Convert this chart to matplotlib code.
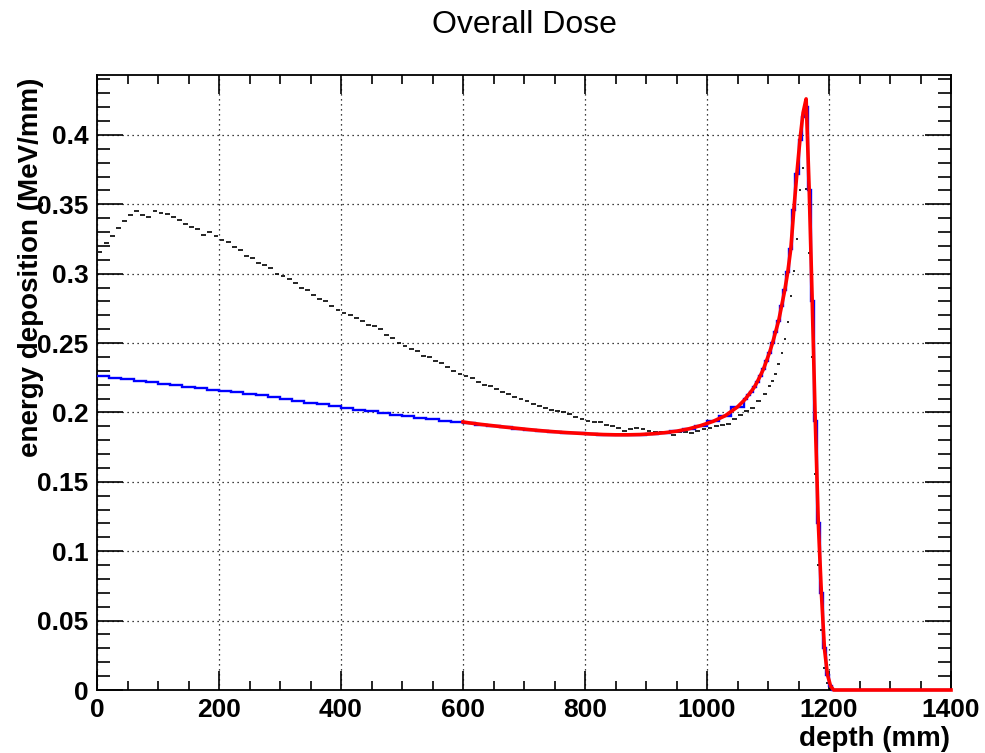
import numpy as np
import matplotlib
matplotlib.use("Agg")
import matplotlib.pyplot as plt
from matplotlib.ticker import MultipleLocator

# ---------------- data ----------------
# Black: measured energy deposition (histogram with error bars)
black_edges = np.concatenate([np.arange(0, 1100, 10), np.arange(1100, 1210, 5)])
black_vals = [
    0.316, 0.322, 0.327, 0.333, 0.338, 0.342, 0.345, 0.342, 0.341, 0.345,
    0.344, 0.343, 0.341, 0.339, 0.336, 0.334, 0.332, 0.328, 0.330, 0.327,
    0.324, 0.323, 0.319, 0.317, 0.313, 0.311, 0.308, 0.306, 0.304, 0.300,
    0.298, 0.296, 0.293, 0.290, 0.288, 0.285, 0.282, 0.280, 0.277, 0.274,
    0.272, 0.270, 0.268, 0.266, 0.263, 0.262, 0.260, 0.256, 0.254, 0.250,
    0.248, 0.246, 0.244, 0.241, 0.240, 0.237, 0.236, 0.233, 0.230, 0.228,
    0.226, 0.225, 0.222, 0.220, 0.219, 0.217, 0.215, 0.213, 0.211, 0.210,
    0.208, 0.206, 0.205, 0.203, 0.202, 0.201, 0.200, 0.199, 0.197, 0.195,
    0.194, 0.193, 0.193, 0.191, 0.190, 0.189, 0.187, 0.188, 0.189, 0.188,
    0.187, 0.186, 0.186, 0.185, 0.184, 0.186, 0.186, 0.185, 0.187, 0.188,
    0.189, 0.190, 0.191, 0.192, 0.195, 0.198, 0.201, 0.203, 0.208, 0.213,
    # 5 mm bins 1100-1205
    0.219, 0.223, 0.228, 0.235, 0.243, 0.253, 0.265, 0.284, 0.302, 0.325,
    0.360, 0.376, 0.361, 0.315, 0.240, 0.156, 0.090, 0.043, 0.016, 0.005,
    0.001,
]

# Blue: simulated dose histogram
blue_edges = np.concatenate([np.arange(0, 1060, 20), np.arange(1060, 1210, 5), [1210, 1400]])
blue_vals = [
    0.2262, 0.2252, 0.2241, 0.2230, 0.2219, 0.2208, 0.2196, 0.2185, 0.2175, 0.2165,
    0.2155, 0.2145, 0.2134, 0.2123, 0.2112, 0.2100, 0.2083, 0.2071, 0.2058, 0.2045,
    0.2033, 0.2020, 0.2008, 0.1996, 0.1985, 0.1974, 0.1963, 0.1952, 0.1942, 0.1932,
    0.1922, 0.1912, 0.1902, 0.1893, 0.1884, 0.1876, 0.1868, 0.1861, 0.1855, 0.1849,
    0.1844, 0.1840, 0.1838, 0.1838, 0.1840, 0.1845, 0.1853, 0.1864, 0.1880, 0.1905,
    0.1935, 0.1975, 0.2040,
    # 5 mm bins 1060-1210
    0.2095, 0.2125, 0.2150, 0.2180, 0.2220, 0.2265, 0.2310, 0.2370, 0.2430, 0.2500,
    0.2580, 0.2660, 0.2770, 0.2880, 0.3010, 0.3180, 0.3460, 0.3720, 0.3960, 0.4130,
    0.4200, 0.3600, 0.2800, 0.1940, 0.1200, 0.0700, 0.0300, 0.0110, 0.0030, 0.0000,
    0.0,
]

# Red: fit curve from 600 mm onwards (depth points and values)
red_x = np.concatenate([[600], np.arange(610, 1060, 20), np.arange(1062.5, 1210, 5), [1400]])
red_vals = [
    0.1932,
    0.1925, 0.1914, 0.1904, 0.1894, 0.1885, 0.1876, 0.1868, 0.1861, 0.1855, 0.1850,
    0.1845, 0.1841, 0.1839, 0.1839, 0.1841, 0.1846, 0.1854, 0.1865, 0.1882, 0.1906,
    0.1936, 0.1977, 0.2040,
    0.2095, 0.2124, 0.2152, 0.2182, 0.2222, 0.2266, 0.2312, 0.2372, 0.2432, 0.2502,
    0.2582, 0.2662, 0.2772, 0.2882, 0.3015, 0.3185, 0.3470, 0.3730, 0.3970, 0.4160,
    0.4260, 0.3610, 0.2800, 0.1940, 0.1200, 0.0700, 0.0300, 0.0110, 0.0030, 0.0000,
    0.0,
]

x_ticks = [0, 200, 400, 600, 800, 1000, 1200, 1400]
y_ticks = [0, 0.05, 0.1, 0.15, 0.2, 0.25, 0.3, 0.35, 0.4]
y_ticklabels = ["0", "0.05", "0.1", "0.15", "0.2", "0.25", "0.3", "0.35", "0.4"]

# ---------------- plot ----------------
plt.rcParams['font.family'] = ['Liberation Sans', 'DejaVu Sans']
fig = plt.figure(figsize=(9.85, 7.53), dpi=100)
ax = fig.add_axes([97 / 985, 1 - 690 / 753, (951 - 97) / 985, (690 - 75) / 753])

ax.set_xlim(0, 1400)
ax.set_ylim(0, 0.4432)

ax.grid(True, which='major', linestyle=(0, (1, 3)), color='black', linewidth=0.9)
ax.set_axisbelow(True)

# black histogram with error bars (horizontal dashes)
be = np.asarray(black_edges, dtype=float)
lo = be[:-1]
hi = be[1:]
w = hi - lo
ax.hlines(black_vals, lo + 0.1 * w, hi - 0.1 * w, colors='black', linewidth=1.2, zorder=3)

ax.stairs(blue_vals, blue_edges, baseline=None, color='#0000ff', linewidth=1.7,
          zorder=4, clip_on=False)
ax.plot(red_x, red_vals, color='#ff0000', linewidth=2.6, zorder=5, clip_on=False,
        solid_joinstyle='round')

ax.set_xticks(x_ticks)
ax.set_xticklabels([str(t) for t in x_ticks])
ax.set_yticks(y_ticks)
ax.set_yticklabels(y_ticklabels)
ax.xaxis.set_minor_locator(MultipleLocator(50))
ax.yaxis.set_minor_locator(MultipleLocator(0.01))

ax.tick_params(axis='both', which='both', direction='in', top=True, right=True, width=1.2, color='black')
ax.tick_params(axis='x', which='major', length=13.5, pad=6)
ax.tick_params(axis='x', which='minor', length=6.8)
ax.tick_params(axis='y', which='major', length=18.5, pad=6)
ax.tick_params(axis='y', which='minor', length=9.2)
for lab in ax.get_xticklabels() + ax.get_yticklabels():
    lab.set_fontsize(19)
    lab.set_fontweight('bold')

for sp in ax.spines.values():
    sp.set_linewidth(1.3)
    sp.set_color('black')

fig.text(524 / 985, 1 - 25 / 753, "Overall Dose", ha='center', va='center', fontsize=23)
fig.text(31 / 985, 1 - 78 / 753, "energy deposition (MeV/mm)", rotation=90,
         ha='center', va='top', fontsize=20, fontweight='bold')
fig.text(950 / 985, 1 - 739 / 753, "depth (mm)", ha='right', va='center',
         fontsize=20, fontweight='bold')

fig.savefig("out.png", dpi=100)
